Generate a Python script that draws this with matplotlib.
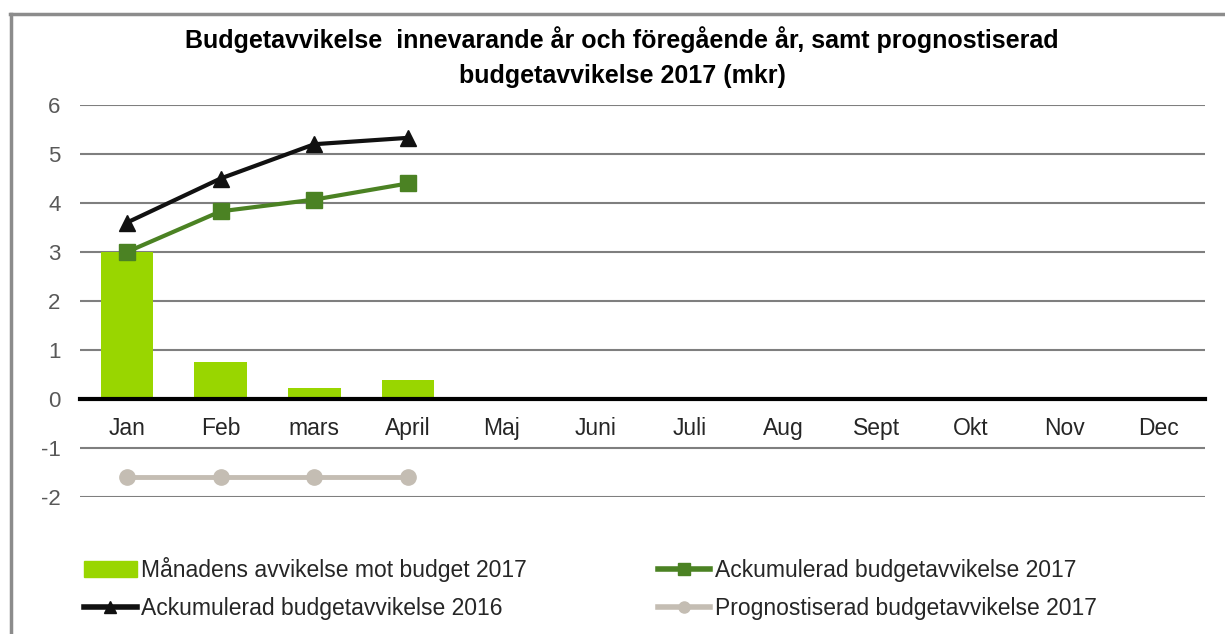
import matplotlib.pyplot as plt
from matplotlib.lines import Line2D
from matplotlib.patches import Patch
import numpy as np

plt.rcParams['font.family'] = ['Liberation Sans', 'DejaVu Sans']
plt.rcParams['axes.unicode_minus'] = False

manader = ["Jan", "Feb", "mars", "April", "Maj", "Juni", "Juli", "Aug",
           "Sept", "Okt", "Nov", "Dec"]

# månadens avvikelse 2017 (staplar)
avvikelse_2017 = [3.0, 0.76, 0.23, 0.39]
# ackumulerad 2017
ack_2017 = [3.0, 3.83, 4.07, 4.40]
# ackumulerad 2016
ack_2016 = [3.6, 4.5, 5.2, 5.33]
# prognos 2017
prognos_2017 = [-1.6, -1.6, -1.6, -1.6]

fig = plt.figure(figsize=(12.25, 6.34), dpi=100)
ax = fig.add_axes([80/1225, 1-497/634, 1125/1225, 392/634])

x = np.arange(len(manader))
n = len(avvikelse_2017)

ax.bar(x[:n], avvikelse_2017, width=0.56, color="#99d600", zorder=2)
ax.plot(x[:n], ack_2017, color="#4b8223", lw=3, marker="s", ms=12, zorder=3)
ax.plot(x[:n], ack_2016, color="#111111", lw=3, marker="^", ms=12, zorder=3)
ax.plot(x[:n], prognos_2017, color="#c4bdb3", lw=3.5, marker="o", ms=11, zorder=3)

ax.set_xlim(-0.5, len(manader) - 0.5)
ax.set_ylim(-2, 6)
ax.set_yticks(range(-2, 7))
ax.yaxis.grid(True, color="#7f7f7f", lw=1.5, zorder=0)
ax.set_axisbelow(True)

for s in ["top", "right", "left"]:
    ax.spines[s].set_visible(False)
ax.spines["bottom"].set_position(("data", 0))
ax.spines["bottom"].set_linewidth(3)
ax.spines["bottom"].set_color("black")
ax.spines["bottom"].set_zorder(4)

ax.set_xticks(x)
ax.set_xticklabels(manader, fontsize=16.5, color="#262626")
ax.tick_params(axis="x", length=0, pad=13)
ax.tick_params(axis="y", length=0, pad=14, labelsize=16, labelcolor="#595959")

fig.text(0.508, 0.958, "Budgetavvikelse  innevarande år och föregående år, samt prognostiserad\nbudgetavvikelse 2017 (mkr)",
         ha="center", va="top", fontsize=18, fontweight="bold", linespacing=1.55)

# ram runt diagrammet
fig.add_artist(Line2D([10/1225, 1.0], [1-13.5/634, 1-13.5/634], color="#8c8c8c", lw=2.5))
fig.add_artist(Line2D([10.5/1225, 10.5/1225], [0, 1-13.5/634], color="#8c8c8c", lw=2.5))

# legend fylls kolumnvis -> ordning så att raderna blir som i originalet
handles = [
    Patch(color="#99d600"),
    Line2D([], [], color="#111111", lw=4, marker="^", ms=8),
    Line2D([], [], color="#4b8223", lw=4, marker="s", ms=8),
    Line2D([], [], color="#c4bdb3", lw=4, marker="o", ms=8),
]
labels = ["Månadens avvikelse mot budget 2017", "Ackumulerad budgetavvikelse 2016",
          "Ackumulerad budgetavvikelse 2017", "Prognostiserad budgetavvikelse 2017"]
fig.legend(handles, labels, loc="upper left", bbox_to_anchor=(84/1225, 1-557/634),
           ncol=2, frameon=False, fontsize=16.5, handlelength=2.3, handletextpad=0.2,
           columnspacing=5.7, labelspacing=0.64, labelcolor="#262626",
           borderaxespad=0, borderpad=0)

fig.savefig("out.png", dpi=100)
